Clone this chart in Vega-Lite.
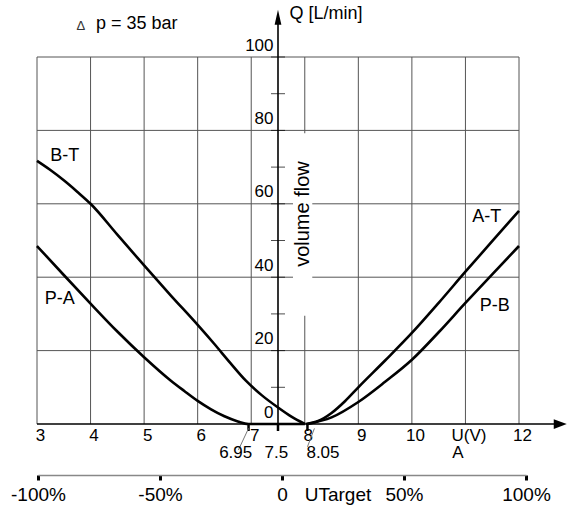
{
 "$schema": "https://vega.github.io/schema/vega-lite/v6.json",
 "width": 482, "height": 367,
 "autosize": {"type": "none"},
 "padding": {"left": 37, "top": 57, "right": 49, "bottom": 86},
 "background": "white",
 "config": {"view": {"stroke": null}, "font": "Liberation Sans"},
 "datasets": {
  "curves": [
   {"curve":"B-T","x":3,"y":71.7},{"curve":"B-T","x":3.25,"y":69.2},{"curve":"B-T","x":3.5,"y":66.4},{"curve":"B-T","x":3.75,"y":63.3},{"curve":"B-T","x":4,"y":60},{"curve":"B-T","x":4.5,"y":51.6},{"curve":"B-T","x":5,"y":43.2},{"curve":"B-T","x":5.5,"y":35},{"curve":"B-T","x":6,"y":27},{"curve":"B-T","x":6.3,"y":22},{"curve":"B-T","x":6.6,"y":16.8},{"curve":"B-T","x":6.9,"y":11.8},{"curve":"B-T","x":7.2,"y":7.8},{"curve":"B-T","x":7.5,"y":4.5},{"curve":"B-T","x":7.75,"y":2},{"curve":"B-T","x":8,"y":0},
   {"curve":"P-A","x":3,"y":48.5},{"curve":"P-A","x":3.5,"y":40.6},{"curve":"P-A","x":4,"y":32.8},{"curve":"P-A","x":4.5,"y":25.2},{"curve":"P-A","x":5,"y":18.2},{"curve":"P-A","x":5.5,"y":11.8},{"curve":"P-A","x":5.75,"y":9},{"curve":"P-A","x":6,"y":6.3},{"curve":"P-A","x":6.25,"y":4},{"curve":"P-A","x":6.5,"y":2.1},{"curve":"P-A","x":6.75,"y":0.7},{"curve":"P-A","x":6.95,"y":0},{"curve":"P-A","x":7.5,"y":0},{"curve":"P-A","x":8,"y":0},
   {"curve":"A-T","x":8.02,"y":0},{"curve":"A-T","x":8.25,"y":0.8},{"curve":"A-T","x":8.5,"y":3},{"curve":"A-T","x":8.75,"y":6.2},{"curve":"A-T","x":9,"y":10},{"curve":"A-T","x":9.5,"y":17.3},{"curve":"A-T","x":10,"y":24.8},{"curve":"A-T","x":10.5,"y":33},{"curve":"A-T","x":11,"y":41.5},{"curve":"A-T","x":11.5,"y":49.8},{"curve":"A-T","x":12,"y":58.1},
   {"curve":"P-B","x":8.05,"y":0},{"curve":"P-B","x":8.5,"y":1.8},{"curve":"P-B","x":9,"y":6},{"curve":"P-B","x":9.5,"y":11.5},{"curve":"P-B","x":10,"y":17.5},{"curve":"P-B","x":10.5,"y":25},{"curve":"P-B","x":11,"y":33},{"curve":"P-B","x":11.5,"y":40.8},{"curve":"P-B","x":12,"y":48.5}
  ],
  "gridx": [{"x":3},{"x":4},{"x":5},{"x":6},{"x":7},{"x":8},{"x":9},{"x":10},{"x":11},{"x":12}],
  "gridy": [{"y":20},{"y":40},{"y":60},{"y":80},{"y":100}],
  "yticks": [{"y":10},{"y":20},{"y":30},{"y":40},{"y":50},{"y":60},{"y":70},{"y":80},{"y":90},{"y":100}],
  "xmarks": [{"x":6.95},{"x":7.5},{"x":8.05}],
  "curvelabels": [
   {"text":"B-T","x":3.517,"y":73.1},{"text":"P-A","x":3.424,"y":34.0},{"text":"A-T","x":11.398,"y":56.4},{"text":"P-B","x":11.547,"y":32.1}
  ],
  "marks": [
   {"text":"6.95","x":6.71,"y":-7.9},{"text":"7.5","x":7.47,"y":-7.9},{"text":"8.05","x":8.34,"y":-7.9},{"text":"A","x":10.86,"y":-7.9}
  ],
  "leaders": [
   {"x":6.76,"y":-7.1,"x2":6.95,"y2":-1.2},
   {"x":8.05,"y2":-1.2,"x2":8.18,"y":-6.2}
  ],
  "pct": [{"p":-100},{"p":-50},{"p":0},{"p":50},{"p":100}]
 },
 "resolve": {"scale": {"x": "independent"}, "axis": {"x": "independent"}},
 "layer": [
  {
   "layer": [
    {
     "data": {"name": "gridx"},
     "mark": {"type": "rule", "stroke": "#555", "strokeWidth": 1},
     "encoding": {
      "x": {"field": "x", "type": "quantitative",
            "scale": {"domain": [3, 12], "nice": false, "zero": false},
            "axis": {"orient": "bottom", "values": [3,4,5,6,7,8,9,10,11,12], "format": "d", "labelExpr": "datum.value == 11 ? 'U(V)' : datum.label",
                     "domain": false, "ticks": false, "grid": false, "labelFontSize": 17, "labelColor": "black",
                     "labelPadding": 3, "labelOffset": 3, "title": null, "labelFlush": false, "labelOverlap": false, "labelBound": false}},
      "y": {"datum": 0, "type": "quantitative",
            "scale": {"domain": [0, 100], "nice": false, "zero": false},
            "axis": {"orient": "left", "offset": -241, "values": [0,20,40,60,80,100], "domain": false, "ticks": false, "grid": false,
                     "labelFontSize": 17, "labelColor": "black", "labelPadding": 5, "labelBaseline": "alphabetic", "labelOffset": -7,
                     "title": null, "labelFlush": false, "labelOverlap": false}},
      "y2": {"datum": 100}
     }
    },
    {
     "data": {"name": "gridy"},
     "mark": {"type": "rule", "stroke": "#555", "strokeWidth": 1},
     "encoding": {
      "y": {"field": "y", "type": "quantitative"},
      "x": {"datum": 3, "type": "quantitative"},
      "x2": {"datum": 12}
     }
    },
    {
     "data": {"values": [{}]},
     "mark": {"type": "rect", "fill": "white"},
     "encoding": {
      "x": {"datum": 7.78, "type": "quantitative"},
      "x2": {"datum": 8.14},
      "y": {"datum": 29.5, "type": "quantitative"},
      "y2": {"datum": 79.2}
     }
    },
    {
     "data": {"name": "curves"},
     "mark": {"type": "line", "color": "black", "strokeWidth": 2.6, "interpolate": "monotone"},
     "encoding": {
      "x": {"field": "x", "type": "quantitative"},
      "y": {"field": "y", "type": "quantitative"},
      "detail": {"field": "curve"}
     }
    },
    {
     "data": {"values": [{}]},
     "mark": {"type": "rule", "color": "black", "strokeWidth": 1.6},
     "encoding": {
      "x": {"datum": 3, "type": "quantitative"},
      "x2": {"datum": 12.77},
      "y": {"datum": 0, "type": "quantitative"}
     }
    },
    {
     "data": {"name": "xmarks"},
     "mark": {"type": "rule", "color": "black", "strokeWidth": 2.5},
     "encoding": {
      "x": {"field": "x", "type": "quantitative"},
      "y": {"datum": 0, "type": "quantitative"},
      "y2": {"datum": -1.9}
     }
    },
    {
     "data": {"values": [{}]},
     "mark": {"type": "rule", "color": "black", "strokeWidth": 1.6},
     "encoding": {
      "x": {"datum": 7.5, "type": "quantitative"},
      "y": {"datum": 0, "type": "quantitative"},
      "y2": {"datum": 110.5}
     }
    },
    {
     "data": {"values": [{}]},
     "mark": {"type": "point", "shape": "M0,-1L0.45,1L-0.45,1Z", "size": 225, "filled": true, "color": "black", "opacity": 1},
     "encoding": {
      "x": {"datum": 7.5, "type": "quantitative"},
      "y": {"datum": 110.8, "type": "quantitative"}
     }
    },
    {
     "data": {"values": [{}]},
     "mark": {"type": "point", "shape": "M1,0L-1,-0.75L-1,0.75Z", "size": 169, "filled": true, "color": "black", "opacity": 1},
     "encoding": {
      "x": {"datum": 12.77, "type": "quantitative"},
      "y": {"datum": 0, "type": "quantitative"}
     }
    },
    {
     "data": {"name": "yticks"},
     "mark": {"type": "tick", "orient": "horizontal", "color": "black", "size": 14, "thickness": 1},
     "encoding": {
      "x": {"datum": 7.5, "type": "quantitative"},
      "y": {"field": "y", "type": "quantitative"}
     }
    },
    {
     "data": {"name": "leaders"},
     "mark": {"type": "rule", "color": "#777", "strokeWidth": 1},
     "encoding": {
      "x": {"field": "x", "type": "quantitative"},
      "y": {"field": "y", "type": "quantitative"},
      "x2": {"field": "x2"},
      "y2": {"field": "y2"}
     }
    },
    {
     "data": {"name": "curvelabels"},
     "mark": {"type": "text", "fontSize": 18, "color": "black", "baseline": "middle", "align": "center"},
     "encoding": {
      "x": {"field": "x", "type": "quantitative"},
      "y": {"field": "y", "type": "quantitative"},
      "text": {"field": "text"}
     }
    },
    {
     "data": {"name": "marks"},
     "mark": {"type": "text", "fontSize": 17, "color": "black", "baseline": "middle", "align": "center"},
     "encoding": {
      "x": {"field": "x", "type": "quantitative"},
      "y": {"field": "y", "type": "quantitative"},
      "text": {"field": "text"}
     }
    },
    {
     "data": {"values": [{"text": "volume flow"}]},
     "mark": {"type": "text", "fontSize": 20, "color": "black", "baseline": "middle", "align": "center", "angle": 270},
     "encoding": {
      "x": {"datum": 7.96, "type": "quantitative"},
      "y": {"datum": 57.2, "type": "quantitative"},
      "text": {"field": "text"}
     }
    },
    {
     "data": {"values": [{"text": "Q [L/min]"}]},
     "mark": {"type": "text", "fontSize": 18, "color": "black", "baseline": "middle", "align": "left"},
     "encoding": {
      "x": {"datum": 7.715, "type": "quantitative"},
      "y": {"datum": 111.6, "type": "quantitative"},
      "text": {"field": "text"}
     }
    },
    {
     "data": {"values": [{"text": "p = 35 bar"}]},
     "mark": {"type": "text", "fontSize": 18, "color": "black", "baseline": "middle", "align": "left"},
     "encoding": {
      "x": {"datum": 4.1, "type": "quantitative"},
      "y": {"datum": 108.9, "type": "quantitative"},
      "text": {"field": "text"}
     }
    },
    {
     "data": {"values": [{"text": "Δ"}]},
     "mark": {"type": "text", "fontSize": 13, "color": "#333", "baseline": "middle", "align": "center"},
     "encoding": {
      "x": {"datum": 3.82, "type": "quantitative"},
      "y": {"datum": 108.4, "type": "quantitative"},
      "text": {"field": "text"}
     }
    },
    {
     "data": {"values": [{"text": "UTarget"}]},
     "mark": {"type": "text", "fontSize": 19, "color": "black", "baseline": "middle", "align": "center"},
     "encoding": {
      "x": {"datum": 8.62, "type": "quantitative"},
      "y": {"datum": -19.3, "type": "quantitative"},
      "text": {"field": "text"}
     }
    }
   ]
  },
  {
   "data": {"name": "pct"},
   "mark": {"type": "point", "opacity": 0},
   "encoding": {
    "x": {"field": "p", "type": "quantitative",
          "scale": {"domain": [-100, 100], "range": [1, 489], "nice": false, "zero": false},
          "axis": {"orient": "bottom", "offset": 51, "values": [-100,-50,0,50,100],
                   "labelExpr": "datum.value == 0 ? '0' : datum.value + '%'",
                   "domainColor": "#888", "domainWidth": 1.5, "tickColor": "black", "tickWidth": 3, "tickSize": 5,
                   "labelFontSize": 19, "labelPadding": 5, "labelColor": "black", "title": null, "grid": false,
                   "labelFlush": false, "labelOverlap": false, "labelBound": false}}
   }
  }
 ]
}
